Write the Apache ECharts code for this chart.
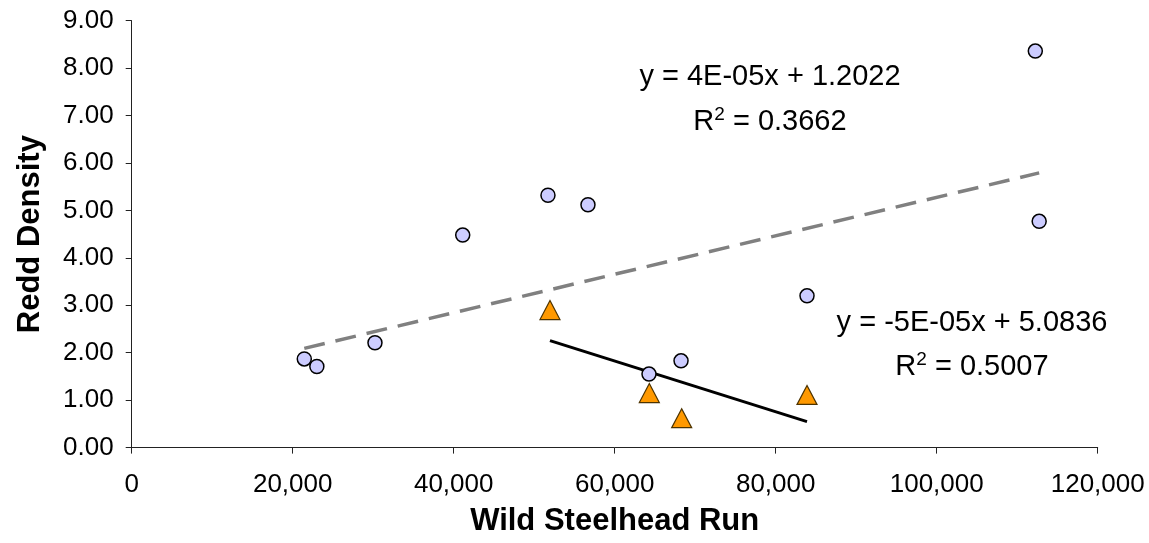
<!DOCTYPE html>
<html>
<head>
<meta charset="utf-8">
<script src="https://cdn.jsdelivr.net/npm/echarts@6/dist/echarts.min.js"></script>
<style>
  html, body { margin: 0; padding: 0; background: #fff; }
  #chart { width: 1149px; height: 543px; }
</style>
</head>
<body>
<div id="chart"></div>
<script>
// wild run vs redd density, all years (circles)
const circleRun = [21440, 23000, 30220, 41120, 51710, 56680, 64260, 68240, 83890, 112250, 112730];
const circleDensity = [1.87, 1.71, 2.21, 4.48, 5.32, 5.12, 1.55, 1.83, 3.20, 8.36, 4.77];

// subset years (triangles)
const triangleRun = [51960, 64300, 68320, 83890];
const triangleDensity = [2.90, 1.15, 0.62, 1.11];

// trendline labels as printed on the chart
const eqCircle = 'y = 4E-05x + 1.2022';
const r2Circle = '0.3662';
const eqTriangle = 'y = -5E-05x + 5.0836';
const r2Triangle = '0.5007';

const FONT = '"Liberation Sans", Arial, sans-serif';

// least squares fit, same as the spreadsheet trendline
function fitLine(xs, ys) {
    const n = xs.length;
    const mx = xs.reduce((a, b) => a + b, 0) / n;
    const my = ys.reduce((a, b) => a + b, 0) / n;
    let sxy = 0, sxx = 0;
    for (let i = 0; i < n; i++) {
        sxy += (xs[i] - mx) * (ys[i] - my);
        sxx += (xs[i] - mx) * (xs[i] - mx);
    }
    const slope = sxy / sxx;
    const icpt = my - slope * mx;
    const x0 = Math.min(...xs), x1 = Math.max(...xs);
    return [[x0, slope * x0 + icpt], [x1, slope * x1 + icpt]];
}

function pairs(xs, ys) {
    return xs.map((x, i) => [x, ys[i]]);
}

function eqText(x, y, text) {
    return {
        type: 'text', x: x, y: y, z: 10,
        style: { text: text, font: '29px ' + FONT, fill: '#000', align: 'center', verticalAlign: 'middle' }
    };
}

function r2Text(x, y, val) {
    return {
        type: 'text', x: x, y: y, z: 10,
        style: {
            text: '{n|R}{s|2}{n| = ' + val + '}',
            align: 'center', verticalAlign: 'middle',
            rich: {
                n: { fontFamily: FONT, fontSize: 29, lineHeight: 34, fill: '#000', color: '#000' },
                s: { fontFamily: FONT, fontSize: 19, lineHeight: 34, verticalAlign: 'top', color: '#000', fill: '#000' }
            }
        }
    };
}

const chart = echarts.init(document.getElementById('chart'), null, { renderer: 'canvas' });

const option = {
    animation: false,
    backgroundColor: '#fff',
    grid: { left: 131.7, right: 51.3, top: 20.7, bottom: 95.4 },
    xAxis: {
        type: 'value', min: 0, max: 120000, interval: 20000,
        name: 'Wild Steelhead Run', nameLocation: 'middle', nameGap: 58,
        nameTextStyle: { fontFamily: FONT, fontSize: 31, fontWeight: 'bold', color: '#000' },
        axisLine: { show: true, onZero: false, lineStyle: { color: '#222', width: 1 } },
        axisTick: { show: true, inside: false, length: 6, lineStyle: { color: '#222' } },
        axisLabel: {
            fontFamily: FONT, fontSize: 26, color: '#000', margin: 24,
            formatter: v => v.toLocaleString('en-US')
        },
        splitLine: { show: false }
    },
    yAxis: {
        type: 'value', min: 0, max: 9, interval: 1,
        name: 'Redd Density', nameLocation: 'middle', nameGap: 86, nameRotate: 90,
        nameTextStyle: { fontFamily: FONT, fontSize: 31, fontWeight: 'bold', color: '#000' },
        axisLine: { show: true, onZero: false, lineStyle: { color: '#222', width: 1 } },
        axisTick: { show: true, inside: false, length: 6, lineStyle: { color: '#222' } },
        axisLabel: {
            fontFamily: FONT, fontSize: 26, color: '#000', margin: 18,
            formatter: v => v.toFixed(2)
        },
        splitLine: { show: false }
    },
    series: [
        {
            type: 'line', name: 'circle trend', data: fitLine(circleRun, circleDensity),
            symbol: 'none', z: 1,
            lineStyle: { color: '#808080', width: 3.5, type: [21, 11] }
        },
        {
            type: 'line', name: 'triangle trend', data: fitLine(triangleRun, triangleDensity),
            symbol: 'none', z: 1,
            lineStyle: { color: '#000', width: 3, type: 'solid' }
        },
        {
            type: 'scatter', name: 'all', data: pairs(circleRun, circleDensity),
            symbol: 'circle', symbolSize: 14, z: 3,
            itemStyle: { color: '#ccccff', borderColor: '#000', borderWidth: 1.5, opacity: 1 }
        },
        {
            type: 'scatter', name: 'subset', data: pairs(triangleRun, triangleDensity),
            symbol: 'triangle', symbolSize: [20, 19], z: 4,
            itemStyle: { color: '#ff9900', borderColor: '#4d3300', borderWidth: 1.2, opacity: 1 }
        }
    ],
    graphic: [
        eqText(770, 77, eqCircle),
        r2Text(770, 122, r2Circle),
        eqText(972, 323, eqTriangle),
        r2Text(972, 367, r2Triangle)
    ]
};

chart.setOption(option);
</script>
</body>
</html>
